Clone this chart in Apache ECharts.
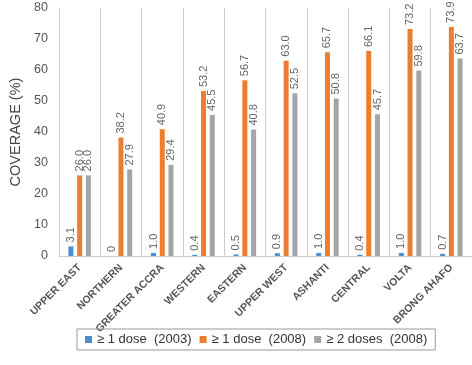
<!DOCTYPE html>
<html><head><meta charset="utf-8">
<script src="https://cdn.jsdelivr.net/npm/echarts@6/dist/echarts.min.js"></script>
<style>html,body{margin:0;padding:0;background:#fff}#c{width:472px;height:365px}</style>
</head><body><div id="c"></div>
<script>
const categories = ['UPPER EAST','NORTHERN','GREATER ACCRA','WESTERN','EASTERN','UPPER WEST','ASHANTI','CENTRAL','VOLTA','BRONG AHAFO'];
const dose1_2003 = [3.1, 0, 1.0, 0.4, 0.5, 0.9, 1.0, 0.4, 1.0, 0.7];
const dose1_2008 = [26.0, 38.2, 40.9, 53.2, 56.7, 63.0, 65.7, 66.1, 73.2, 73.9];
const dose2_2008 = [26.0, 27.9, 29.4, 45.5, 40.8, 52.5, 50.8, 45.7, 59.8, 63.7];
const seriesNames = ['≥ 1 dose  (2003)', '≥ 1 dose  (2008)', '≥ 2 doses  (2008)'];
const colors = ['#4a90d0', '#ed7d31', '#a5a5a5'];
const yTicks = [0, 10, 20, 30, 40, 50, 60, 70, 80];

const chart = echarts.init(document.getElementById('c'));
const lbl = {
  show: true, position: 'top', rotate: 90, align: 'left', verticalAlign: 'middle',
  distance: 4, color: '#666', fontSize: 11, fontFamily: 'Liberation Sans',
  formatter: p => p.value === 0 ? '0' : p.value.toFixed(1)
};
const mk = (i, d) => ({
  name: seriesNames[i], type: 'bar', data: d, barWidth: 5, barGap: '75%',
  itemStyle: { color: colors[i] }, label: lbl
});
chart.setOption({
  animation: false,
  textStyle: { fontFamily: 'Liberation Sans' },
  grid: { left: 44, right: 0, top: 8, bottom: 109 },
  legend: {
    bottom: 15, left: 77, itemWidth: 7, itemHeight: 7, itemGap: 8,
    borderColor: '#999', borderWidth: 1, padding: [4, 8],
    textStyle: { fontSize: 13, color: '#333' },
    icon: 'rect'
  },
  xAxis: {
    type: 'category', data: categories,
    axisLine: { lineStyle: { color: '#ccc' } },
    axisTick: { show: false },
    splitLine: { show: true, lineStyle: { color: '#ccc' } },
    axisLabel: { rotate: 45, interval: 0, fontSize: 10.5, fontWeight: 'bold', color: '#555', margin: 10 }
  },
  yAxis: {
    type: 'value', min: 0, max: 80, interval: 10,
    name: 'COVERAGE (%)', nameLocation: 'middle', nameGap: 36, nameRotate: 90,
    nameTextStyle: { fontSize: 14.5, color: '#444' },
    axisLine: { show: false }, axisTick: { show: false },
    splitLine: { show: false },
    axisLabel: { fontSize: 12.5, color: '#555', margin: 11, formatter: v => yTicks.includes(v) ? String(v) : '' }
  },
  series: [mk(0, dose1_2003), mk(1, dose1_2008), mk(2, dose2_2008)]
});
</script></body></html>
